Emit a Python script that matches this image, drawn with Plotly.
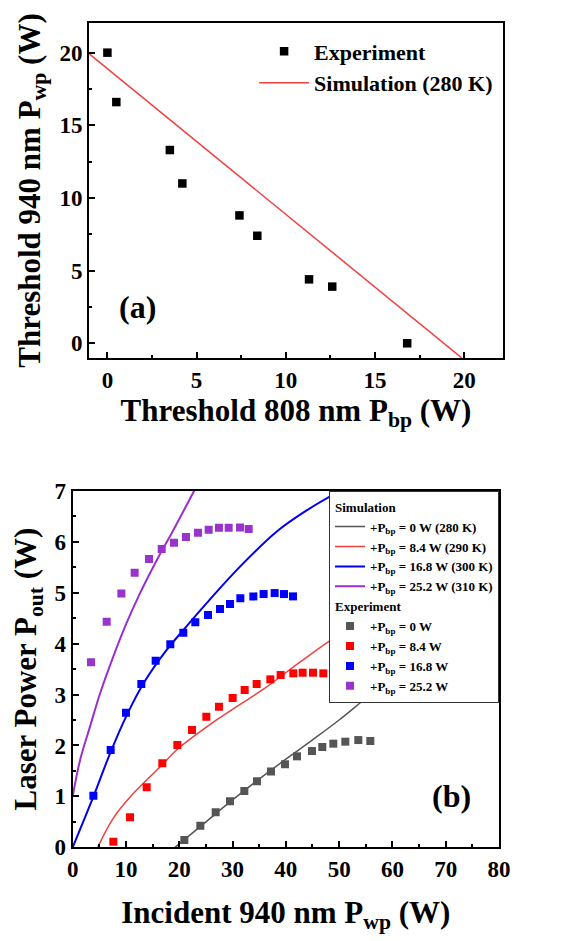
import plotly.graph_objects as go

# ---------- Panel (a) data ----------
exp_a_x = [0.0, 0.5, 3.5, 4.2, 7.4, 8.4, 11.3, 12.6, 16.8]
exp_a_y = [20.0, 16.6, 13.3, 11.0, 8.8, 7.4, 4.4, 3.9, 0.0]
sim_a_x = [-1.0, 19.85]
sim_a_y = [19.9, -1.0]

# ---------- Panel (b) data ----------
sim0_x = [19.2, 25.0, 30.0, 35.0, 40.0, 45.0, 50.0, 55.8, 60.0]
sim0_y = [0.0, 0.50, 0.93, 1.34, 1.73, 2.11, 2.50, 2.99, 3.30]
sim84_x = [4.69, 7.6, 11.4, 16.8, 19.5, 27.0, 36.4, 42.7, 50.3, 56.0]
sim84_y = [0.0, 0.57, 1.06, 1.62, 1.91, 2.50, 3.15, 3.64, 4.20, 4.55]
sim168_x = [0.0, 3.9, 7.0, 10.0, 13.3, 17.6, 20.8, 25.1, 31.4, 38.3, 44.0, 50.2]
sim168_y = [0.0, 1.00, 1.84, 2.56, 3.22, 3.87, 4.27, 4.79, 5.51, 6.20, 6.62, 7.0]
sim252_x = [0.0, 1.38, 3.25, 5.13, 7.6, 10.1, 12.6, 15.8, 18.9, 22.8]
sim252_y = [1.0, 1.71, 2.37, 3.02, 3.74, 4.40, 4.98, 5.64, 6.23, 7.0]

exp0_x = [20.95, 23.95, 26.83, 29.52, 32.21, 34.58, 37.21, 39.84, 42.09, 44.90, 46.84, 48.91, 51.16, 53.6, 55.85]
exp0_y = [0.144, 0.425, 0.687, 0.903, 1.106, 1.295, 1.49, 1.63, 1.786, 1.89, 1.97, 2.035, 2.074, 2.106, 2.087]
exp84_x = [7.63, 10.76, 13.88, 16.82, 19.64, 22.39, 25.08, 27.45, 30.02, 32.27, 34.52, 37.09, 39.02, 41.4, 43.15, 45.09, 47.03, 49.09]
exp84_y = [0.111, 0.589, 1.178, 1.649, 2.008, 2.303, 2.564, 2.761, 2.931, 3.088, 3.206, 3.297, 3.382, 3.415, 3.428, 3.428, 3.415, 3.363]
exp168_x = [3.88, 7.13, 10.0, 12.88, 15.57, 18.32, 20.76, 23.01, 25.39, 27.64, 29.52, 31.46, 33.9, 35.83, 37.9, 39.65, 41.34]
exp168_y = [1.014, 1.91, 2.643, 3.206, 3.663, 3.984, 4.213, 4.416, 4.56, 4.678, 4.776, 4.887, 4.926, 4.972, 4.991, 4.972, 4.926]
exp252_x = [3.44, 6.38, 9.13, 11.63, 14.32, 16.7, 19.01, 21.26, 23.51, 25.52, 27.45, 29.27, 31.39, 33.02]
exp252_y = [3.631, 4.429, 4.985, 5.39, 5.659, 5.855, 5.979, 6.09, 6.176, 6.234, 6.274, 6.274, 6.28, 6.248]

FONT = "Liberation Serif"
fig = go.Figure()

# Panel (a)
fig.add_trace(go.Scatter(x=exp_a_x, y=exp_a_y, mode="markers", name="Experiment",
                         marker=dict(symbol="square", size=8.5, color="black"),
                         xaxis="x", yaxis="y", legend="legend"))
fig.add_trace(go.Scatter(x=sim_a_x, y=sim_a_y, mode="lines", name="Simulation (280 K)",
                         line=dict(color="#f04040", width=1.5),
                         xaxis="x", yaxis="y", legend="legend"))

# Panel (b) simulation
sims = [(sim0_x, sim0_y, "#555555", "+P<sub>bp</sub> = 0 W (280 K)", 1.5),
        (sim84_x, sim84_y, "#f04040", "+P<sub>bp</sub> = 8.4 W (290 K)", 1.5),
        (sim168_x, sim168_y, "#0000ee", "+P<sub>bp</sub> = 16.8 W (300 K)", 2),
        (sim252_x, sim252_y, "#9a2fd0", "+P<sub>bp</sub> = 25.2 W (310 K)", 2)]
for i, (sx, sy, c, nm, w) in enumerate(sims):
    fig.add_trace(go.Scatter(x=sx, y=sy, mode="lines", name=nm, line=dict(color=c, width=w, shape="spline"),
                             xaxis="x2", yaxis="y2", legend="legend2", legendgroup="sim",
                             legendgrouptitle=dict(text="Simulation") if i == 0 else None))
exps = [(exp0_x, exp0_y, "#555555", "+P<sub>bp</sub> = 0 W"),
        (exp84_x, exp84_y, "#ff0000", "+P<sub>bp</sub> = 8.4 W"),
        (exp168_x, exp168_y, "#0000ff", "+P<sub>bp</sub> = 16.8 W"),
        (exp252_x, exp252_y, "#9933cc", "+P<sub>bp</sub> = 25.2 W")]
for i, (ex, ey, c, nm) in enumerate(exps):
    fig.add_trace(go.Scatter(x=ex, y=ey, mode="markers", name=nm,
                             marker=dict(symbol="square", size=8, color=c),
                             xaxis="x2", yaxis="y2", legend="legend2", legendgroup="exp",
                             legendgrouptitle=dict(text="Experiment") if i == 0 else None))

TICKF = dict(family=FONT, size=23, color="black", weight="bold")
TITLEF = dict(family=FONT, size=31, color="black", weight="bold")
axcommon = dict(showgrid=False, zeroline=False, showline=True, linecolor="black", linewidth=2,
                mirror=True, ticks="inside", ticklen=6, tickwidth=2, tickcolor="black",
                automargin=False, tickfont=TICKF)
minor_common = dict(ticks="inside", ticklen=3, tickwidth=1.5, tickcolor="black")

# The page body has an 8px margin, so the figure is 571x933 placed at (8, 8).
fig.update_layout(
    width=571, height=933, margin=dict(l=0, r=0, t=0, b=0),
    paper_bgcolor="white", plot_bgcolor="white",
    font=dict(family=FONT, color="black"),
    showlegend=True,
    xaxis=dict(domain=[0.1419, 0.8669], range=[-1.03, 22.17], tickvals=[0, 5, 10, 15, 20],
               minor=dict(dtick=2.5, **minor_common), anchor="y",
               title=dict(text="Threshold 808 nm P<sub>bp</sub> (W)", standoff=4, font=TITLEF),
               **axcommon),
    yaxis=dict(domain=[0.6249, 0.9839], range=[-1.01, 22.04], tickvals=[0, 5, 10, 15, 20],
               minor=dict(dtick=2.5, **minor_common), anchor="x",
               title=dict(text="Threshold 940 nm P<sub>wp</sub> (W)", standoff=10, font=TITLEF),
               **axcommon),
    xaxis2=dict(domain=[0.1133, 0.8599], range=[0, 80], tickvals=list(range(0, 81, 10)),
                minor=dict(dtick=5, **minor_common), anchor="y2",
                title=dict(text="Incident 940 nm P<sub>wp</sub> (W)", standoff=20, font=TITLEF),
                **axcommon),
    yaxis2=dict(domain=[0.1004, 0.4826], range=[0, 7], tickvals=list(range(0, 8)),
                minor=dict(dtick=0.5, **minor_common), anchor="x2",
                title=dict(text="Laser Power P<sub>out</sub> (W)", standoff=18, font=TITLEF),
                **axcommon),
    legend=dict(x=0.431, y=0.976, xanchor="left", yanchor="top", bgcolor="rgba(0,0,0,0)",
                font=dict(family=FONT, size=22, color="black", weight="bold"),
                itemwidth=50, tracegroupgap=0),
    legend2=dict(x=0.8599, y=0.4826, xanchor="right", yanchor="top", bgcolor="white",
                 bordercolor="#333333", borderwidth=1, tracegroupgap=0, traceorder="grouped",
                 font=dict(family=FONT, size=13, color="black", weight="bold"),
                 grouptitlefont=dict(family=FONT, size=13, color="black", weight="bold"),
                 itemwidth=30),
    annotations=[
        dict(text="(a)", x=1.7, y=2.5, xref="x", yref="y", showarrow=False, xanchor="center",
             font=dict(family=FONT, size=32, color="black", weight="bold")),
        dict(text="(b)", x=71, y=1.0, xref="x2", yref="y2", showarrow=False, xanchor="center",
             font=dict(family=FONT, size=32, color="black", weight="bold")),
    ],
)

fig.write_html("out.html")
